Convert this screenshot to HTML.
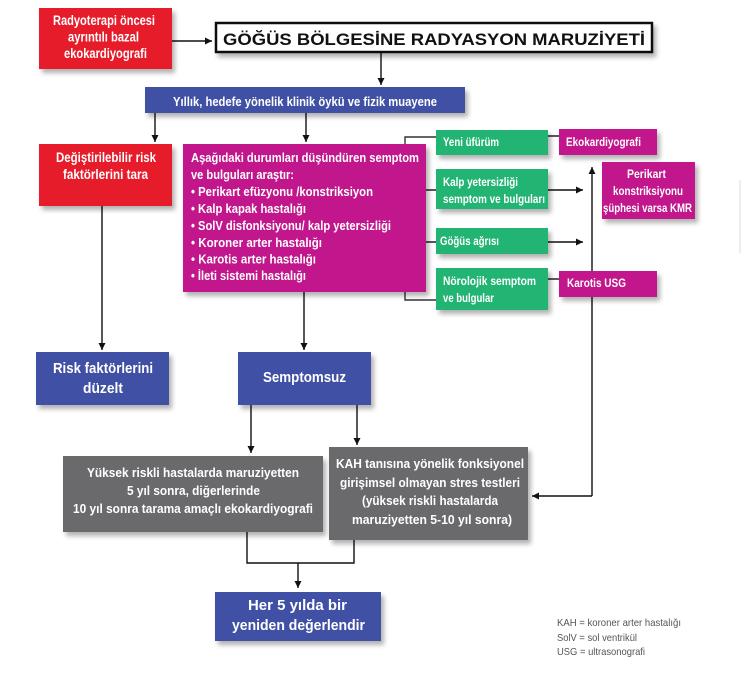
<!DOCTYPE html>
<html><head><meta charset="utf-8">
<style>
html,body{margin:0;padding:0;background:#fff;}
svg{display:block;}
text{font-family:"Liberation Sans","DejaVu Sans",sans-serif;font-weight:bold;fill:#fff;}
.lg{font-weight:normal;fill:#555;font-size:10.5px;}
</style></head>
<body>
<svg width="748" height="679" viewBox="0 0 748 679" xmlns="http://www.w3.org/2000/svg">
<defs>
<filter id="sh" x="-10%" y="-20%" width="130%" height="150%">
<feDropShadow dx="3" dy="4" stdDeviation="2.5" flood-color="#000" flood-opacity="0.3"/>
</filter>
<marker id="ar" viewBox="0 0 10 10" refX="10" refY="5" markerWidth="7" markerHeight="7" markerUnits="userSpaceOnUse" orient="auto">
<path d="M0,0 L10,5 L0,10 z" fill="#111"/>
</marker>
</defs>

<!-- faint right edge line -->
<line x1="740" y1="180" x2="740" y2="253" stroke="#eee" stroke-width="2"/>

<!-- connectors -->
<g stroke="#111" stroke-width="1.4" fill="none">
<line x1="172" y1="41" x2="212" y2="41" marker-end="url(#ar)"/>
<line x1="381" y1="53" x2="381" y2="85" marker-end="url(#ar)"/>
<line x1="155" y1="113" x2="155" y2="142" marker-end="url(#ar)"/>
<line x1="306" y1="113" x2="306" y2="142" marker-end="url(#ar)"/>
<line x1="102" y1="206" x2="102" y2="350" marker-end="url(#ar)"/>
<line x1="304" y1="292" x2="304" y2="350" marker-end="url(#ar)"/>
<polyline points="436,137 405,137 405,300 436,300" stroke="#333"/>
<line x1="426" y1="190" x2="436" y2="190"/>
<line x1="426" y1="242" x2="436" y2="242"/>
<line x1="548" y1="136" x2="559" y2="136"/>
<line x1="548" y1="279" x2="559" y2="279"/>
<line x1="548" y1="190" x2="583" y2="190" marker-end="url(#ar)"/>
<line x1="548" y1="242" x2="583" y2="242" marker-end="url(#ar)"/>
<line x1="592" y1="496" x2="592" y2="167" marker-end="url(#ar)"/>
<line x1="592" y1="496" x2="532" y2="496" marker-end="url(#ar)"/>
<line x1="251" y1="405" x2="251" y2="453" marker-end="url(#ar)"/>
<line x1="357" y1="405" x2="357" y2="445" marker-end="url(#ar)"/>
<polyline points="247,532 247,563 354,563 354,540"/>
<line x1="298" y1="563" x2="298" y2="588" marker-end="url(#ar)"/>
</g>

<!-- boxes -->
<g filter="url(#sh)">
<rect x="39" y="8" width="133" height="61" fill="#E61E2A"/>
<rect x="216" y="23" width="436" height="29" fill="#fff" stroke="#111" stroke-width="2.5"/>
<rect x="145" y="87" width="320" height="26" fill="#3F51A5"/>
<rect x="39" y="144" width="133" height="62" fill="#E61E2A"/>
<rect x="183" y="144" width="243" height="148" fill="#C2188C"/>
<rect x="436" y="130" width="112" height="25" fill="#24B473"/>
<rect x="436" y="169" width="112" height="40" fill="#24B473"/>
<rect x="436" y="228" width="112" height="26" fill="#24B473"/>
<rect x="436" y="268" width="112" height="42" fill="#24B473"/>
<rect x="559" y="129" width="98" height="26" fill="#C2188C"/>
<rect x="602" y="162" width="93" height="57" fill="#C2188C"/>
<rect x="559" y="271" width="98" height="26" fill="#C2188C"/>
<rect x="36" y="352" width="133" height="53" fill="#3F51A5"/>
<rect x="238" y="352" width="133" height="53" fill="#3F51A5"/>
<rect x="63" y="456" width="260" height="76" fill="#6A6B6D"/>
<rect x="329" y="447" width="199" height="93" fill="#6A6B6D"/>
<rect x="215" y="592" width="166" height="49" fill="#3F51A5"/>
</g>

<!-- texts -->
<g font-size="13.5">
<text x="53" y="25" textLength="102" lengthAdjust="spacingAndGlyphs">Radyoterapi öncesi</text>
<text x="68" y="41.5" textLength="71" lengthAdjust="spacingAndGlyphs">ayrıntılı bazal</text>
<text x="64" y="58" textLength="83" lengthAdjust="spacingAndGlyphs">ekokardiyografi</text>
<text x="56" y="162" textLength="100" lengthAdjust="spacingAndGlyphs">Değiştirilebilir risk</text>
<text x="63" y="179" textLength="85" lengthAdjust="spacingAndGlyphs">faktörlerini tara</text>
</g>
<text x="223" y="45" font-size="16.5" style="fill:#111" textLength="422" lengthAdjust="spacingAndGlyphs">GÖĞÜS BÖLGESİNE RADYASYON MARUZİYETİ</text>
<text x="173" y="106" font-size="13" textLength="264" lengthAdjust="spacingAndGlyphs">Yıllık, hedefe yönelik klinik öykü ve fizik muayene</text>

<g font-size="13">
<text x="191" y="162" textLength="228" lengthAdjust="spacingAndGlyphs">Aşağıdaki durumları düşündüren semptom</text>
<text x="191" y="179" textLength="103" lengthAdjust="spacingAndGlyphs">ve bulguları araştır:</text>
<text x="191" y="196" textLength="182" lengthAdjust="spacingAndGlyphs">• Perikart efüzyonu /konstriksiyon</text>
<text x="191" y="213" textLength="115" lengthAdjust="spacingAndGlyphs">• Kalp kapak hastalığı</text>
<text x="191" y="230" textLength="200" lengthAdjust="spacingAndGlyphs">• SolV disfonksiyonu/ kalp yetersizliği</text>
<text x="191" y="247" textLength="131" lengthAdjust="spacingAndGlyphs">• Koroner arter hastalığı</text>
<text x="191" y="263.5" textLength="125" lengthAdjust="spacingAndGlyphs">• Karotis arter hastalığı</text>
<text x="191" y="280" textLength="115" lengthAdjust="spacingAndGlyphs">• İleti sistemi hastalığı</text>
</g>

<g font-size="12">
<text x="443" y="146" textLength="56" lengthAdjust="spacingAndGlyphs">Yeni üfürüm</text>
<text x="443" y="186" textLength="75" lengthAdjust="spacingAndGlyphs">Kalp yetersizliği</text>
<text x="443" y="203" textLength="102" lengthAdjust="spacingAndGlyphs">semptom ve bulguları</text>
<text x="440" y="245" textLength="59" lengthAdjust="spacingAndGlyphs">Göğüs ağrısı</text>
<text x="443" y="285" textLength="93" lengthAdjust="spacingAndGlyphs">Nörolojik semptom</text>
<text x="443" y="302" textLength="51" lengthAdjust="spacingAndGlyphs">ve bulgular</text>
<text x="566" y="146" textLength="75" lengthAdjust="spacingAndGlyphs">Ekokardiyografi</text>
<text x="627" y="178" textLength="39" lengthAdjust="spacingAndGlyphs">Perikart</text>
<text x="613" y="195" textLength="70" lengthAdjust="spacingAndGlyphs">konstriksiyonu</text>
<text x="603" y="212" textLength="89" lengthAdjust="spacingAndGlyphs">şüphesi varsa KMR</text>
<text x="567" y="287" textLength="59" lengthAdjust="spacingAndGlyphs">Karotis USG</text>
</g>

<g font-size="15">
<text x="53" y="373" textLength="100" lengthAdjust="spacingAndGlyphs">Risk faktörlerini</text>
<text x="83" y="393" textLength="40" lengthAdjust="spacingAndGlyphs">düzelt</text>
<text x="263" y="382" textLength="83" lengthAdjust="spacingAndGlyphs">Semptomsuz</text>
<text x="248" y="610" textLength="99" lengthAdjust="spacingAndGlyphs">Her 5 yılda bir</text>
<text x="232" y="630" textLength="133" lengthAdjust="spacingAndGlyphs">yeniden değerlendir</text>
</g>

<g font-size="13">
<text x="87" y="477" textLength="212" lengthAdjust="spacingAndGlyphs">Yüksek riskli hastalarda maruziyetten</text>
<text x="127" y="495" textLength="133" lengthAdjust="spacingAndGlyphs">5 yıl sonra, diğerlerinde</text>
<text x="73" y="513" textLength="240" lengthAdjust="spacingAndGlyphs">10 yıl sonra tarama amaçlı ekokardiyografi</text>
<text x="336" y="468" textLength="188" lengthAdjust="spacingAndGlyphs">KAH tanısına yönelik fonksiyonel</text>
<text x="340" y="487" textLength="180" lengthAdjust="spacingAndGlyphs">girişimsel olmayan stres testleri</text>
<text x="362" y="505" textLength="136" lengthAdjust="spacingAndGlyphs">(yüksek riskli hastalarda</text>
<text x="352" y="524" textLength="160" lengthAdjust="spacingAndGlyphs">maruziyetten 5-10 yıl sonra)</text>
</g>

<text class="lg" x="557" y="626" textLength="124" lengthAdjust="spacingAndGlyphs">KAH = koroner arter hastalığı</text>
<text class="lg" x="557" y="641" textLength="80" lengthAdjust="spacingAndGlyphs">SolV = sol ventrikül</text>
<text class="lg" x="557" y="655" textLength="88" lengthAdjust="spacingAndGlyphs">USG = ultrasonografi</text>
</svg>
</body></html>
